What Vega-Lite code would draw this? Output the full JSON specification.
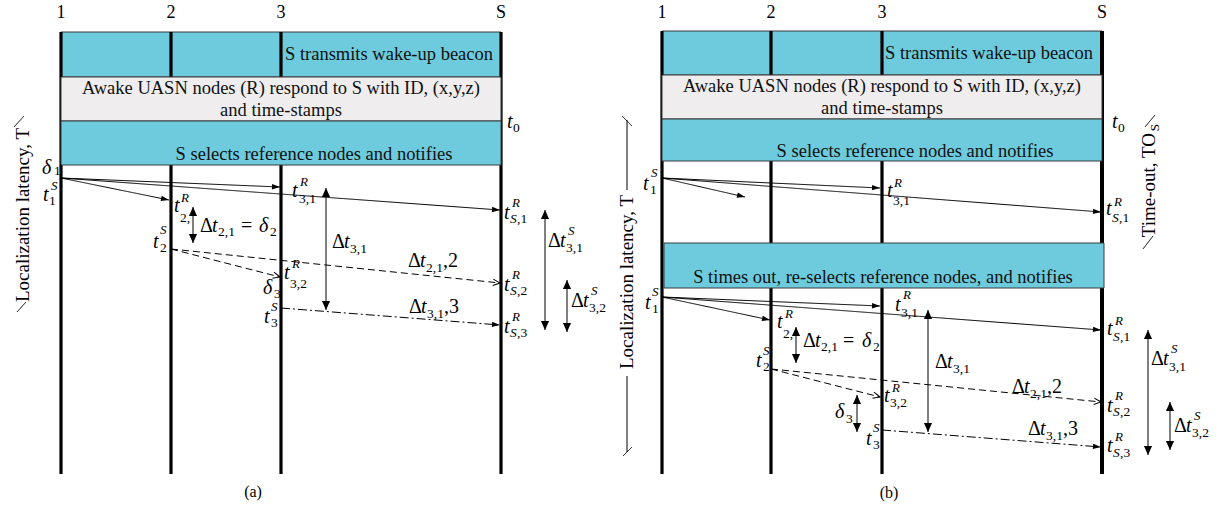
{
"$schema":"https://vega.github.io/schema/vega-lite/v6.json",
"width":1220,"height":510,
"autosize":{"type":"fit","contains":"padding"},
"padding":0,
"background":"white",
"config":{"view":{"stroke":null}},
"datasets":{
"box1":[{"x":61,"x2":501,"y":32,"y2":77},{"x":662,"x2":1102,"y":31,"y2":75}],
"vlines":[{"x":61,"y":32,"y2":474},{"x":171,"y":32,"y2":474},{"x":281,"y":32,"y2":474},{"x":501,"y":32,"y2":474},{"x":662,"y":31,"y2":474},{"x":771,"y":31,"y2":474},{"x":882,"y":31,"y2":474}],
"sline":[{"x":1102,"y":31,"y2":474}],
"box2":[{"x":61,"x2":501,"y":77,"y2":121},{"x":662,"x2":1102,"y":75,"y2":119}],
"box3":[{"x":61,"x2":501,"y":121,"y2":165},{"x":662,"x2":1102,"y":119,"y2":161},{"x":664,"x2":1104,"y":243,"y2":288}],
"segs":[
{"x":61,"y":178,"x2":169,"y2":200,"k":"s"},{"x":61,"y":178,"x2":280,"y2":187,"k":"s"},{"x":61,"y":178,"x2":500,"y2":210,"k":"s"},
{"x":193,"y":207,"x2":193,"y2":243,"k":"s"},{"x":326,"y":188,"x2":326,"y2":310,"k":"s"},{"x":545,"y":210,"x2":545,"y2":330,"k":"s"},{"x":567,"y":280,"x2":567,"y2":332,"k":"s"},
{"x":171,"y":249,"x2":280,"y2":277,"k":"d"},{"x":171,"y":249,"x2":500,"y2":283,"k":"d"},
{"x":281,"y":308,"x2":500,"y2":325,"k":"dd"},
{"x":662,"y":178,"x2":745,"y2":197,"k":"s"},{"x":662,"y":178,"x2":880,"y2":188,"k":"s"},{"x":662,"y":178,"x2":1101,"y2":212,"k":"s"},
{"x":662,"y":297,"x2":770,"y2":320,"k":"s"},{"x":662,"y":297,"x2":880,"y2":306,"k":"s"},{"x":662,"y":297,"x2":1101,"y2":330,"k":"s"},
{"x":796,"y":327,"x2":796,"y2":363,"k":"s"},{"x":857,"y":395,"x2":857,"y2":432,"k":"s"},{"x":928,"y":310,"x2":928,"y2":432,"k":"s"},{"x":1148,"y":330,"x2":1148,"y2":455,"k":"s"},{"x":1170,"y":402,"x2":1170,"y2":450,"k":"s"},
{"x":771,"y":369,"x2":880,"y2":397,"k":"d"},{"x":771,"y":369,"x2":1101,"y2":402,"k":"d"},
{"x":882,"y":430,"x2":1101,"y2":447,"k":"dd"},
{"x":627,"y":120,"x2":627,"y2":190,"k":"s"},{"x":627,"y":376,"x2":627,"y2":452,"k":"s"},
{"x":622,"y":116,"x2":632,"y2":126,"k":"s"},{"x":623,"y":456,"x2":632,"y2":447,"k":"s"},
{"x":1155,"y":115,"x2":1145,"y2":127,"k":"s"},{"x":1153,"y":236,"x2":1143,"y2":249,"k":"s"},
{"x":14,"y":127,"x2":24,"y2":116,"k":"s"},{"x":17,"y":312,"x2":26,"y2":302,"k":"s"}
],
"hsmall":[{"x":169,"y":200,"a":11.5},{"x":280,"y":187,"a":2.4},{"x":500,"y":210,"a":4.2},{"x":500,"y":325,"a":4.4},
{"x":745,"y":197,"a":12.9},{"x":880,"y":188,"a":2.6},{"x":1101,"y":212,"a":4.4},{"x":770,"y":320,"a":12.0},{"x":880,"y":306,"a":2.4},{"x":1101,"y":330,"a":4.3},{"x":1101,"y":447,"a":4.4}],
"hopen":[{"x":280,"y":277,"a":14.4},{"x":500,"y":283,"a":5.9},{"x":880,"y":397,"a":14.4},{"x":1101,"y":402,"a":5.7}],
"hbig":[{"x":193,"y":207,"a":-90},{"x":193,"y":243,"a":90},{"x":326,"y":188,"a":-90},{"x":326,"y":310,"a":90},{"x":545,"y":210,"a":-90},{"x":545,"y":330,"a":90},{"x":567,"y":280,"a":-90},{"x":567,"y":332,"a":90},
{"x":796,"y":327,"a":-90},{"x":796,"y":363,"a":90},{"x":857,"y":395,"a":-90},{"x":857,"y":432,"a":90},{"x":928,"y":310,"a":-90},{"x":928,"y":432,"a":90},{"x":1148,"y":330,"a":-90},{"x":1148,"y":455,"a":90},{"x":1170,"y":402,"a":-90},{"x":1170,"y":450,"a":90}],
"heads":[{"x":61,"y":13,"t":"1"},{"x":171,"y":13,"t":"2"},{"x":281,"y":13,"t":"3"},{"x":501,"y":13,"t":"S"},{"x":662,"y":13,"t":"1"},{"x":771,"y":13,"t":"2"},{"x":882,"y":13,"t":"3"},{"x":1102,"y":13,"t":"S"}],
"boxtext":[{"x":389,"y":54,"t":"S transmits wake-up beacon"},{"x":281,"y":88,"t":"Awake UASN nodes (R) respond to S with ID, (x,y,z)"},{"x":281,"y":110,"t":"and time-stamps"},{"x":314,"y":154,"t":"S selects reference nodes and notifies"},
{"x":989,"y":53,"t":"S transmits wake-up beacon"},{"x":882,"y":86,"t":"Awake UASN nodes (R) respond to S with ID, (x,y,z)"},{"x":882,"y":108,"t":"and time-stamps"},{"x":915,"y":151,"t":"S selects reference nodes and notifies"},{"x":883,"y":277,"t":"S times out, re-selects reference nodes, and notifies"}],
"captions":[{"x":253,"y":492,"t":"(a)"},{"x":889,"y":493,"t":"(b)"}],
"rot":[{"x":29,"y":215,"t":"Localization latency, T"},{"x":633,"y":282,"t":"Localization latency, T"}],
"rotr":[{"x":1155,"y":133,"t":"Time-out, TO"}],
"rotsub":[{"x":1159,"y":124,"t":"S"}],
"mit":[
{"x":42,"y":174,"t":"δ"},{"x":43,"y":201,"t":"t"},{"x":174,"y":212,"t":"t"},{"x":212,"y":232,"t":"t"},{"x":259,"y":232,"t":"δ"},{"x":153,"y":248,"t":"t"},{"x":292,"y":197,"t":"t"},{"x":284,"y":279,"t":"t"},{"x":263,"y":294,"t":"δ"},{"x":264,"y":323,"t":"t"},{"x":344,"y":248,"t":"t"},{"x":420,"y":267,"t":"t"},{"x":421,"y":313,"t":"t"},{"x":504,"y":219,"t":"t"},{"x":504,"y":291,"t":"t"},{"x":504,"y":333,"t":"t"},{"x":560,"y":247,"t":"t"},{"x":583,"y":307,"t":"t"},{"x":507,"y":128,"t":"t"},
{"x":643,"y":190,"t":"t"},{"x":887,"y":197,"t":"t"},{"x":1106,"y":215,"t":"t"},{"x":1112,"y":128,"t":"t"},{"x":645,"y":309,"t":"t"},{"x":895,"y":311,"t":"t"},{"x":777,"y":328,"t":"t"},{"x":815,"y":347,"t":"t"},{"x":862,"y":347,"t":"δ"},{"x":756,"y":367,"t":"t"},{"x":884,"y":402,"t":"t"},{"x":835,"y":418,"t":"δ"},{"x":866,"y":445,"t":"t"},{"x":947,"y":368,"t":"t"},{"x":1024,"y":393,"t":"t"},{"x":1040,"y":435,"t":"t"},{"x":1107,"y":335,"t":"t"},{"x":1107,"y":412,"t":"t"},{"x":1107,"y":452,"t":"t"},{"x":1163,"y":365,"t":"t"},{"x":1186,"y":432,"t":"t"}
],
"mup":[
{"x":200,"y":232,"t":"Δ"},{"x":241,"y":232,"t":"="},{"x":332,"y":248,"t":"Δ"},{"x":408,"y":267,"t":"Δ"},{"x":443,"y":267,"t":",2"},{"x":409,"y":313,"t":"Δ"},{"x":444,"y":313,"t":",3"},{"x":548,"y":247,"t":"Δ"},{"x":571,"y":307,"t":"Δ"},
{"x":803,"y":347,"t":"Δ"},{"x":843,"y":347,"t":"="},{"x":935,"y":368,"t":"Δ"},{"x":1012,"y":393,"t":"Δ"},{"x":1047,"y":393,"t":",2"},{"x":1028,"y":435,"t":"Δ"},{"x":1063,"y":435,"t":",3"},{"x":1151,"y":365,"t":"Δ"},{"x":1174,"y":432,"t":"Δ"}
],
"sub":[
{"x":54,"y":175,"t":"1"},{"x":49,"y":205,"t":"1"},{"x":180,"y":222,"t":"2,"},{"x":218,"y":236,"t":"2,1"},{"x":270,"y":236,"t":"2"},{"x":160,"y":252,"t":"2"},{"x":299,"y":203,"t":"3,1"},{"x":290,"y":288,"t":"3,2"},{"x":274,"y":298,"t":"3"},{"x":271,"y":327,"t":"3"},{"x":350,"y":253,"t":"3,1"},{"x":426,"y":272,"t":"2,1"},{"x":427,"y":318,"t":"3,1"},{"x":517,"y":223,"t":",1"},{"x":517,"y":295,"t":",2"},{"x":517,"y":337,"t":",3"},{"x":566,"y":252,"t":"3,1"},{"x":589,"y":312,"t":"3,2"},{"x":513,"y":132,"t":"0"},
{"x":650,"y":194,"t":"1"},{"x":893,"y":205,"t":"3,1"},{"x":1119,"y":222,"t":",1"},{"x":1118,"y":132,"t":"0"},{"x":652,"y":313,"t":"1"},{"x":901,"y":317,"t":"3,1"},{"x":783,"y":338,"t":"2,"},{"x":821,"y":351,"t":"2,1"},{"x":873,"y":351,"t":"2"},{"x":763,"y":371,"t":"2"},{"x":890,"y":407,"t":"3,2"},{"x":846,"y":423,"t":"3"},{"x":873,"y":449,"t":"3"},{"x":953,"y":373,"t":"3,1"},{"x":1030,"y":398,"t":"2,1"},{"x":1046,"y":440,"t":"3,1"},{"x":1120,"y":341,"t":",1"},{"x":1120,"y":416,"t":",2"},{"x":1120,"y":457,"t":",3"},{"x":1169,"y":371,"t":"3,1"},{"x":1192,"y":437,"t":"3,2"}
],
"subit":[{"x":510,"y":223,"t":"S"},{"x":510,"y":295,"t":"S"},{"x":510,"y":337,"t":"S"},{"x":1112,"y":222,"t":"S"},{"x":1113,"y":341,"t":"S"},{"x":1113,"y":416,"t":"S"},{"x":1113,"y":457,"t":"S"}],
"sup":[
{"x":51,"y":190,"t":"S"},{"x":181,"y":202,"t":"R"},{"x":160,"y":234,"t":"S"},{"x":300,"y":186,"t":"R"},{"x":292,"y":268,"t":"R"},{"x":271,"y":311,"t":"S"},{"x":512,"y":207,"t":"R"},{"x":512,"y":279,"t":"R"},{"x":512,"y":321,"t":"R"},{"x":568,"y":235,"t":"S"},{"x":591,"y":295,"t":"S"},
{"x":651,"y":177,"t":"S"},{"x":894,"y":187,"t":"R"},{"x":1114,"y":206,"t":"R"},{"x":652,"y":296,"t":"S"},{"x":903,"y":299,"t":"R"},{"x":785,"y":318,"t":"R"},{"x":763,"y":355,"t":"S"},{"x":892,"y":392,"t":"R"},{"x":873,"y":432,"t":"S"},{"x":1115,"y":325,"t":"R"},{"x":1115,"y":400,"t":"R"},{"x":1115,"y":441,"t":"R"},{"x":1171,"y":353,"t":"S"},{"x":1194,"y":420,"t":"S"}
]
},
"encoding":{
"x":{"field":"x","type":"quantitative","scale":{"domain":[0,1220],"nice":false,"zero":false},"axis":null},
"y":{"field":"y","type":"quantitative","scale":{"domain":[0,510],"nice":false,"zero":false,"reverse":true},"axis":null}
},
"layer":[
{"data":{"name":"box1"},"mark":{"type":"rect","fill":"#6DCBDD","stroke":"#3a3a3a","strokeWidth":1},"encoding":{"x2":{"field":"x2"},"y2":{"field":"y2"}}},
{"data":{"name":"vlines"},"mark":{"type":"rule","color":"black","strokeWidth":3.2},"encoding":{"y2":{"field":"y2"}}},
{"data":{"name":"sline"},"mark":{"type":"rule","color":"black","strokeWidth":4},"encoding":{"y2":{"field":"y2"}}},
{"data":{"name":"box2"},"mark":{"type":"rect","fill":"#EFEDEE","stroke":"#3a3a3a","strokeWidth":1},"encoding":{"x2":{"field":"x2"},"y2":{"field":"y2"}}},
{"data":{"name":"box3"},"mark":{"type":"rect","fill":"#6DCBDD","stroke":"#3a3a3a","strokeWidth":1},"encoding":{"x2":{"field":"x2"},"y2":{"field":"y2"}}},
{"data":{"name":"segs"},"mark":{"type":"rule","color":"black","strokeWidth":1},"encoding":{"x2":{"field":"x2"},"y2":{"field":"y2"},"strokeDash":{"field":"k","type":"nominal","scale":{"domain":["s","d","dd"],"range":[[1,0],[7,4],[9,3,2,3]]},"legend":null}}},
{"data":{"name":"hsmall"},"mark":{"type":"point","shape":"M0,0L-1,-0.34L-1,0.34Z","size":256,"filled":true,"color":"black","opacity":1,"strokeWidth":0},"encoding":{"angle":{"field":"a","type":"quantitative","scale":null}}},
{"data":{"name":"hopen"},"mark":{"type":"point","shape":"M-1,-0.45L0,0L-1,0.45","size":196,"filled":false,"stroke":"black","opacity":1,"strokeWidth":1},"encoding":{"angle":{"field":"a","type":"quantitative","scale":null}}},
{"data":{"name":"hbig"},"mark":{"type":"point","shape":"M0,0L-1,-0.45L-1,0.45Z","size":324,"filled":true,"color":"black","opacity":1,"strokeWidth":0},"encoding":{"angle":{"field":"a","type":"quantitative","scale":null}}},
{"data":{"name":"heads"},"mark":{"type":"text","font":"Liberation Serif","fontSize":18,"align":"center","baseline":"middle","color":"black"},"encoding":{"text":{"field":"t"}}},
{"data":{"name":"boxtext"},"mark":{"type":"text","font":"Liberation Serif","fontSize":18.5,"align":"center","baseline":"middle","color":"#111"},"encoding":{"text":{"field":"t"}}},
{"data":{"name":"captions"},"mark":{"type":"text","font":"Liberation Serif","fontSize":16,"align":"center","baseline":"middle","color":"black"},"encoding":{"text":{"field":"t"}}},
{"data":{"name":"rot"},"mark":{"type":"text","font":"Liberation Serif","fontSize":19,"align":"center","baseline":"alphabetic","angle":270,"color":"black"},"encoding":{"text":{"field":"t"}}},
{"data":{"name":"rotr"},"mark":{"type":"text","font":"Liberation Serif","fontSize":19,"align":"right","baseline":"alphabetic","angle":270,"color":"black"},"encoding":{"text":{"field":"t"}}},
{"data":{"name":"rotsub"},"mark":{"type":"text","font":"Liberation Serif","fontSize":13,"align":"right","baseline":"alphabetic","angle":270,"color":"black"},"encoding":{"text":{"field":"t"}}},
{"data":{"name":"mit"},"mark":{"type":"text","font":"Liberation Serif","fontSize":20,"fontStyle":"italic","align":"left","baseline":"alphabetic","color":"black"},"encoding":{"text":{"field":"t"}}},
{"data":{"name":"mup"},"mark":{"type":"text","font":"Liberation Serif","fontSize":20,"align":"left","baseline":"alphabetic","color":"black"},"encoding":{"text":{"field":"t"}}},
{"data":{"name":"sub"},"mark":{"type":"text","font":"Liberation Serif","fontSize":13.5,"align":"left","baseline":"alphabetic","color":"black"},"encoding":{"text":{"field":"t"}}},
{"data":{"name":"subit"},"mark":{"type":"text","font":"Liberation Serif","fontSize":13.5,"fontStyle":"italic","align":"left","baseline":"alphabetic","color":"black"},"encoding":{"text":{"field":"t"}}},
{"data":{"name":"sup"},"mark":{"type":"text","font":"Liberation Serif","fontSize":13,"fontStyle":"italic","align":"left","baseline":"alphabetic","color":"black"},"encoding":{"text":{"field":"t"}}}
]
}
